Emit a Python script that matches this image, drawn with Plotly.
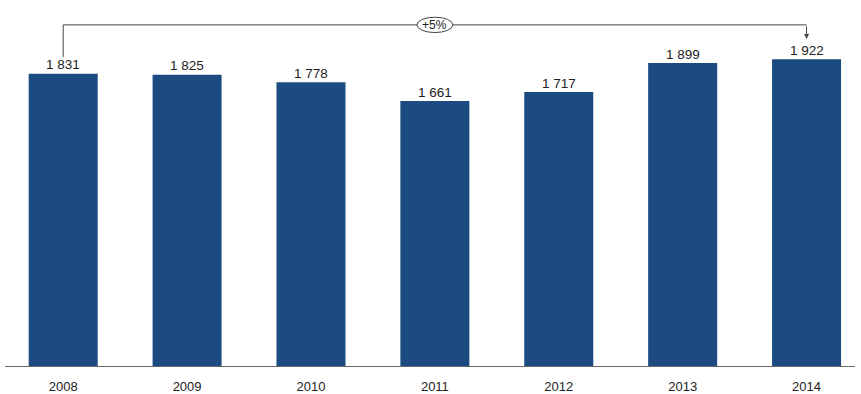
import plotly.graph_objects as go

years = ["2008", "2009", "2010", "2011", "2012", "2013", "2014"]
values = [1831, 1825, 1778, 1661, 1717, 1899, 1922]
change_label = "+5%"

labels = [f"{v:,}".replace(",", " ") for v in values]

bar_color = "#1c4b82"
text_color = "#222222"
font_family = "Liberation Sans, Arial, sans-serif"

fig = go.Figure(go.Bar(
    x=list(range(len(years))),
    y=values,
    marker=dict(color=bar_color, line=dict(width=0)),
    hoverinfo="skip",
))

for i, (v, lab) in enumerate(zip(values, labels)):
    fig.add_annotation(x=i, y=v, xref="x", yref="y", text=lab, showarrow=False,
                       yanchor="middle", yshift=9,
                       font=dict(size=13.5, color=text_color, family=font_family))

y_br = 2138
# bracket
fig.add_shape(type="line", xref="x", yref="y", x0=0, x1=0, y0=1937, y1=y_br,
              line=dict(color="#444444", width=1))
fig.add_shape(type="line", xref="x", yref="y", x0=0, x1=6, y0=y_br, y1=y_br,
              line=dict(color="#444444", width=1))
fig.add_annotation(x=6, y=2050, ax=6, ay=y_br, xref="x", yref="y", axref="x", ayref="y",
                   text="", showarrow=True, arrowhead=2, arrowsize=1, arrowwidth=1,
                   arrowcolor="#444444")
fig.add_shape(type="circle", xref="x", yref="y", x0=3 - 0.145, x1=3 + 0.145,
              y0=y_br - 48, y1=y_br + 48, fillcolor="white",
              line=dict(color="#444444", width=1))
fig.add_annotation(x=3, y=y_br, xref="x", yref="y", text=change_label, showarrow=False,
                   font=dict(size=12, color=text_color, family=font_family))

fig.update_layout(
    width=861, height=394,
    margin=dict(l=5, r=6, t=15, b=28, autoexpand=False),
    paper_bgcolor="white", plot_bgcolor="white",
    bargap=0.443,
    showlegend=False,
    xaxis=dict(
        range=[-0.4697, 6.391],
        automargin=False,
        tickmode="array", tickvals=list(range(len(years))), ticktext=years,
        showline=True, linecolor="#666666", linewidth=1,
        showgrid=False, zeroline=False, ticks="",
        ticklabelstandoff=8,
        tickfont=dict(size=13, color=text_color, family=font_family),
    ),
    yaxis=dict(range=[0, 2200], visible=False, showgrid=False, zeroline=False),
)

fig.write_html("out.html", config={"displayModeBar": False})

with open("out.html", "r", encoding="utf-8") as f:
    html = f.read()
html = html.replace("<body>", '<body style="margin:0;padding:0;overflow:hidden">', 1)
with open("out.html", "w", encoding="utf-8") as f:
    f.write(html)
